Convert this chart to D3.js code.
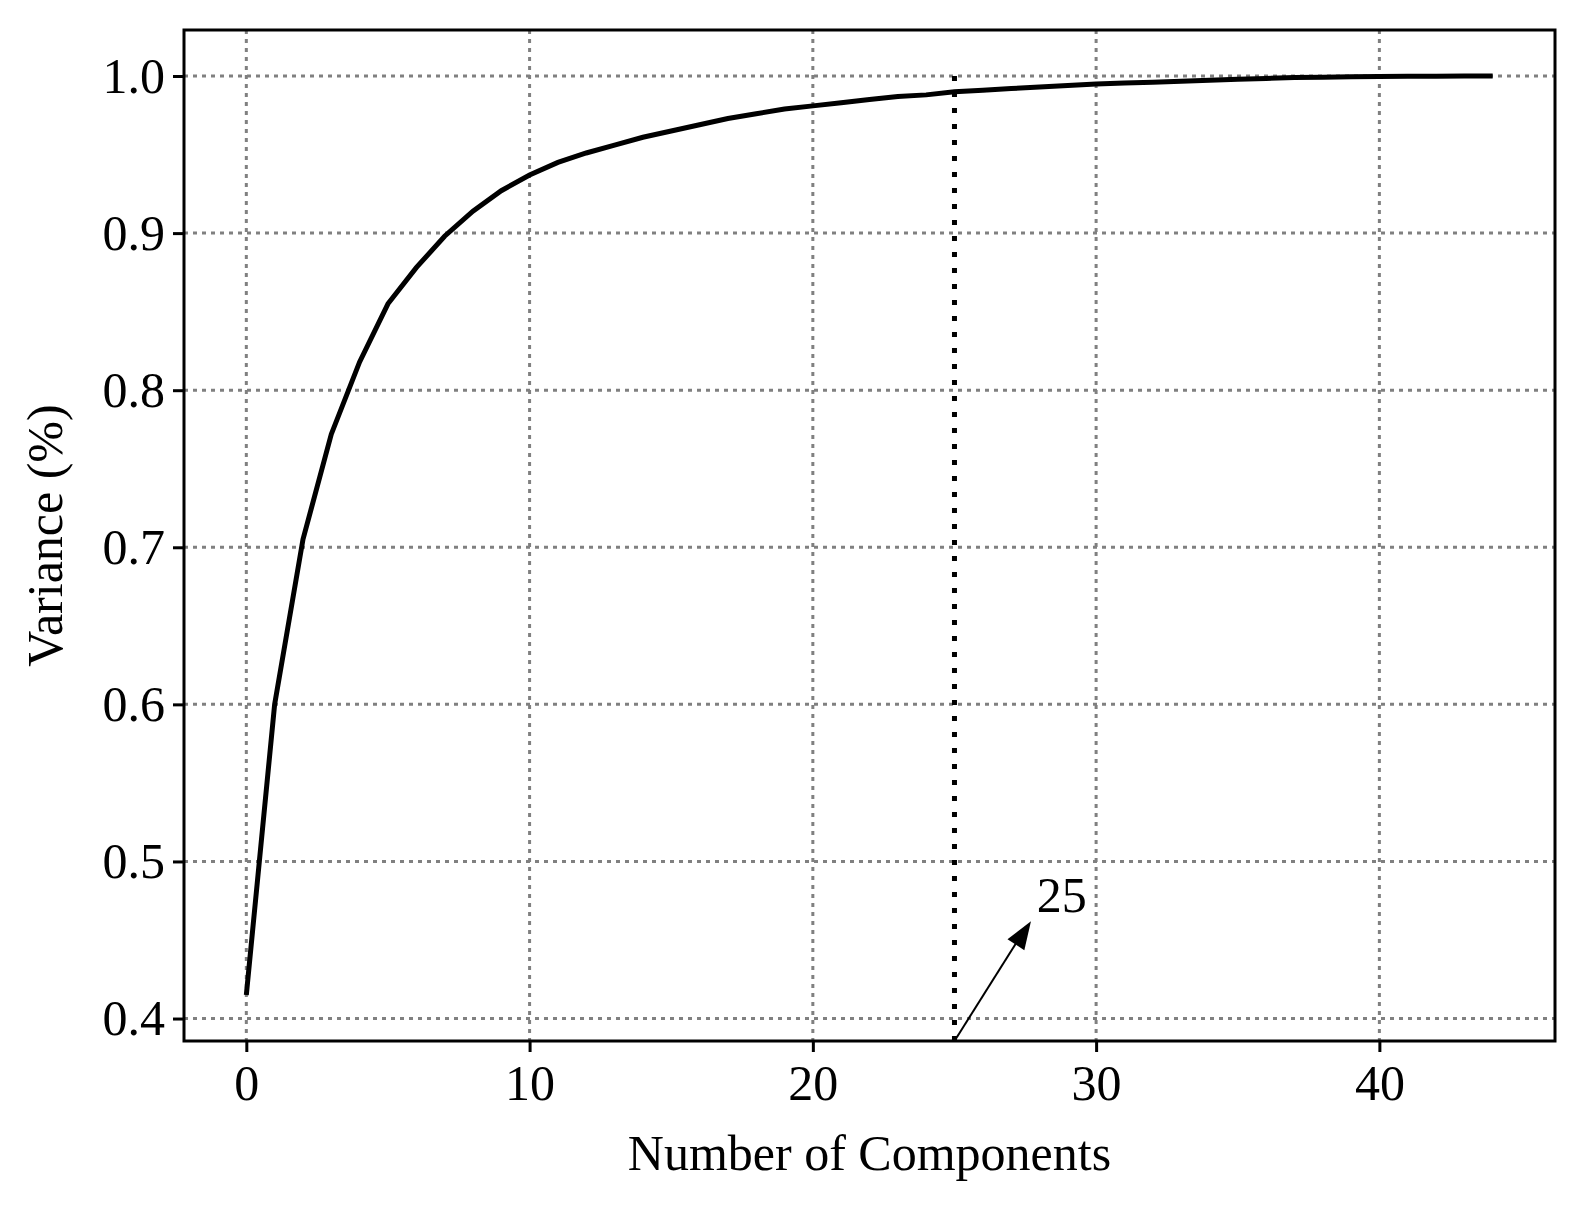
<!DOCTYPE html>
<html><head><meta charset="utf-8">
<script src="https://cdn.jsdelivr.net/npm/d3@7"></script>
<style>body{margin:0;background:#fff}svg{font-family:"Liberation Serif","DejaVu Serif",serif}</style>
</head><body><svg id="c" width="1592" height="1216"></svg>
<script>
const components = d3.range(0,45);
const variance = [0.415,0.600,0.705,0.772,0.818,0.855,0.878,0.898,0.914,0.927,0.937,0.945,0.951,0.956,0.961,0.965,0.969,0.973,0.976,0.979,0.981,0.983,0.985,0.987,0.988,0.990,0.991,0.992,0.993,0.994,0.995,0.9955,0.996,0.9967,0.9973,0.998,0.9985,0.999,0.9993,0.9995,0.9997,0.9998,0.9999,1.0,1.0];
const xTicks = [0,10,20,30,40];
const yTicks = [0.4,0.5,0.6,0.7,0.8,0.9,1.0];
const cutoff = 25;

const svg = d3.select("#c");
const L=184,R=1555,T=30,B=1041;
const x = d3.scaleLinear().domain([-2.2,46.2]).range([L,R]);
const y = d3.scaleLinear().domain([0.3857,1.0293]).range([B,T]);

const g = svg.append("g");
g.selectAll(".gx").data(xTicks).join("line").attr("x1",d=>x(d)).attr("x2",d=>x(d)).attr("y1",T).attr("y2",B)
 .attr("stroke","#808080").attr("stroke-width",3).attr("stroke-dasharray","4,5");
g.selectAll(".gy").data(yTicks).join("line").attr("y1",d=>y(d)).attr("y2",d=>y(d)).attr("x1",L).attr("x2",R)
 .attr("stroke","#808080").attr("stroke-width",3).attr("stroke-dasharray","4,5");

svg.append("line").attr("x1",x(cutoff)).attr("x2",x(cutoff)).attr("y1",y(1.0)).attr("y2",B)
 .attr("stroke","#000").attr("stroke-width",5).attr("stroke-dasharray","5,11");

svg.append("path").datum(components).attr("fill","none").attr("stroke","#000").attr("stroke-width",5)
 .attr("d",d3.line().x(d=>x(d)).y(d=>y(variance[d])));

const ax0=x(cutoff), ay0=B, ax1=x(27.7), ay1=y(0.462);
svg.append("line").attr("x1",ax0).attr("y1",ay0).attr("x2",ax1-8).attr("y2",ay1+11).attr("stroke","#000").attr("stroke-width",2);
svg.append("path").attr("d",()=>{const a=Math.atan2(ay1-ay0,ax1-ax0),l=28,w=10;
 const bx=ax1-l*Math.cos(a),by=ay1-l*Math.sin(a);
 return `M${ax1},${ay1}L${bx+w*Math.sin(a)},${by-w*Math.cos(a)}L${bx-w*Math.sin(a)},${by+w*Math.cos(a)}Z`;}).attr("fill","#000");
svg.append("text").attr("x",x(27.9)).attr("y",y(0.468)).attr("font-size",50).text("25");

svg.append("rect").attr("x",L).attr("y",T).attr("width",R-L).attr("height",B-T).attr("fill","none").attr("stroke","#000").attr("stroke-width",3);

const xa = svg.append("g").attr("transform",`translate(0,${B})`).call(d3.axisBottom(x).tickValues(xTicks).tickSize(11).tickPadding(8).tickFormat(d3.format("d")));
const ya = svg.append("g").attr("transform",`translate(${L},0)`).call(d3.axisLeft(y).tickValues(yTicks).tickSize(11).tickPadding(8).tickFormat(d3.format(".1f")));
[xa,ya].forEach(a=>{a.select(".domain").remove();a.selectAll("line").attr("stroke-width",3);
 a.selectAll("text").attr("font-size",50).attr("font-family","Liberation Serif").attr("fill","#000");});
xa.selectAll("text").attr("dy","0.8em");

svg.append("text").attr("x",(L+R)/2).attr("y",1170).attr("text-anchor","middle").attr("font-size",50).text("Number of Components");
svg.append("text").attr("transform",`translate(62,${(T+B)/2}) rotate(-90)`).attr("text-anchor","middle").attr("font-size",50).text("Variance (%)");
</script></body></html>
